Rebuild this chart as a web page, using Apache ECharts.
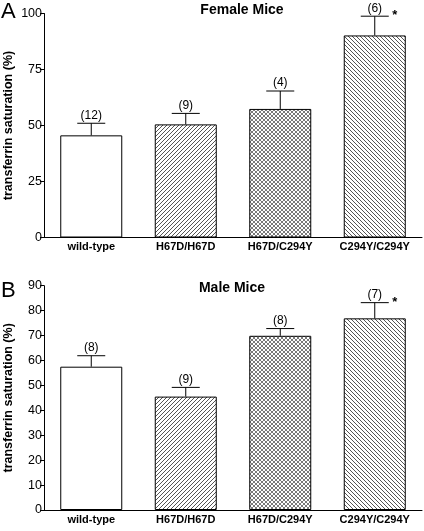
<!DOCTYPE html>
<html><head><meta charset="utf-8">
<script src="https://cdn.jsdelivr.net/npm/echarts@6/dist/echarts.min.js"></script>
<style>html,body{margin:0;padding:0;background:#fff}#c{width:424px;height:531px}</style>
</head><body><div id="c"></div>
<script>
var categories = ['wild-type', 'H67D/H67D', 'H67D/C294Y', 'C294Y/C294Y'];
var femaleMean = [45.6, 50.5, 57.4, 90.2];
var femaleErr = [5.4, 4.9, 8.0, 8.6];
var femaleN = ['(12)', '(9)', '(4)', '(6)'];
var maleMean = [57.5, 45.5, 69.9, 76.9];
var maleErr = [4.4, 3.7, 2.9, 6.3];
var maleN = ['(8)', '(9)', '(8)', '(7)'];
var sig = ['', '', '', '*'];
var femaleTicks = {min: 0, max: 100, interval: 25};
var maleTicks = {min: 0, max: 90, interval: 10};

var FONT = 'Liberation Sans, Arial, sans-serif';

function tile(kind, col) {
  var n = 4, c = document.createElement('canvas');
  c.width = n; c.height = n;
  var g = c.getContext('2d');
  g.fillStyle = '#fff'; g.fillRect(0, 0, n, n);
  g.fillStyle = col;
  for (var i = 0; i < n; i++) {
    if (kind === 'fwd' || kind === 'cross') g.fillRect(i, n - 1 - i, 1, 1);
    if (kind === 'back' || kind === 'cross') g.fillRect(i, i, 1, 1);
  }
  return {image: c, repeat: 'repeat'};
}
var fills = ['#ffffff', tile('fwd', '#555'), tile('cross', '#7a7a7a'), tile('back', '#555')];

function barData(vals) {
  return vals.map(function (v, i) {
    return {value: v, itemStyle: {color: fills[i], borderColor: '#000', borderWidth: 1}};
  });
}
function errData(means, errs, ns) {
  return means.map(function (m, i) { return [i, m, errs[i], ns[i], sig[i]]; });
}
function renderErr(params, api) {
  var i = api.value(0), m = api.value(1), e = api.value(2);
  var p0 = api.coord([i, m]);
  var p1 = api.coord([i, m + e]);
  var hw = 14;
  var d = errRaw[params.seriesIndex][params.dataIndex];
  var children = [
    {type: 'line', shape: {x1: p0[0], y1: p0[1], x2: p1[0], y2: p1[1]}, style: {stroke: '#000', lineWidth: 1}},
    {type: 'line', shape: {x1: p1[0] - hw, y1: p1[1], x2: p1[0] + hw, y2: p1[1]}, style: {stroke: '#000', lineWidth: 1}},
    {type: 'text', x: p1[0], y: p1[1] - 2, style: {text: d[3], font: '12px ' + FONT, fill: '#000', align: 'center', verticalAlign: 'bottom'}}
  ];
  if (d[4]) {
    children.push({type: 'text', x: p1[0] + 20, y: p1[1] - 0.5, style: {text: d[4], font: 'bold 13px ' + FONT, fill: '#000', align: 'center', verticalAlign: 'middle'}});
  }
  return {type: 'group', children: children};
}

var femaleErrData = errData(femaleMean, femaleErr, femaleN);
var maleErrData = errData(maleMean, maleErr, maleN);
var errRaw = {2: femaleErrData, 3: maleErrData};

function xAxis(gi) {
  return {
    type: 'category', gridIndex: gi, data: categories,
    axisLine: {lineStyle: {color: '#000', width: 1}},
    axisTick: {show: false},
    axisLabel: {fontFamily: FONT, fontWeight: 'bold', fontSize: 11, color: '#000', margin: 4, interval: 0}
  };
}
function yAxis(gi, t) {
  return {
    type: 'value', gridIndex: gi, min: t.min, max: t.max, interval: t.interval,
    name: 'transferrin saturation (%)', nameLocation: 'middle', nameGap: 29, nameMoveOverlap: false,
    nameTextStyle: {fontFamily: FONT, fontWeight: 'bold', fontSize: 12.5, color: '#000'},
    axisLine: {show: true, lineStyle: {color: '#000', width: 1}},
    axisTick: {show: true, length: 4, lineStyle: {color: '#000'}},
    axisLabel: {fontFamily: FONT, fontSize: 12.5, color: '#000', margin: 2},
    splitLine: {show: false}
  };
}

var chart = echarts.init(document.getElementById('c'), null, {renderer: 'canvas'});
chart.setOption({
  animation: false,
  backgroundColor: '#fff',
  title: [
    {text: 'Female Mice', left: 237, top: -2, textAlign: 'center', textStyle: {fontFamily: FONT, fontWeight: 'bold', fontSize: 14, color: '#000'}},
    {text: 'Male Mice', left: 227, top: 276, textAlign: 'center', textStyle: {fontFamily: FONT, fontWeight: 'bold', fontSize: 14, color: '#000'}},
    {text: 'A', left: -4, top: -4, textStyle: {fontFamily: FONT, fontWeight: 'normal', fontSize: 22, color: '#000'}},
    {text: 'B', left: -4, top: 275, textStyle: {fontFamily: FONT, fontWeight: 'normal', fontSize: 22, color: '#000'}}
  ],
  grid: [
    {left: 44, right: 2, top: 13.5, height: 224, outerBoundsMode: 'none', containLabel: false},
    {left: 44, right: 2, top: 285.7, height: 224.3, outerBoundsMode: 'none', containLabel: false}
  ],
  xAxis: [xAxis(0), xAxis(1)],
  yAxis: [yAxis(0, femaleTicks), yAxis(1, maleTicks)],
  series: [
    {type: 'bar', xAxisIndex: 0, yAxisIndex: 0, barWidth: 62, data: barData(femaleMean)},
    {type: 'bar', xAxisIndex: 1, yAxisIndex: 1, barWidth: 62, data: barData(maleMean)},
    {type: 'custom', xAxisIndex: 0, yAxisIndex: 0, renderItem: renderErr, data: femaleErrData, z: 5},
    {type: 'custom', xAxisIndex: 1, yAxisIndex: 1, renderItem: renderErr, data: maleErrData, z: 5}
  ]
});
</script>
</body></html>
